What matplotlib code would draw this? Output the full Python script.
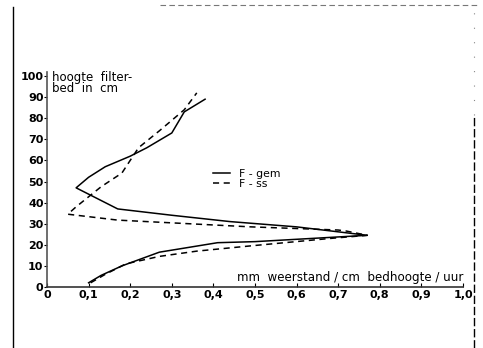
import matplotlib
matplotlib.use("Agg")
import matplotlib.pyplot as plt
from matplotlib.lines import Line2D

# Resistance profile over filter bed height
gem_x = [0.10, 0.13, 0.18, 0.27, 0.41, 0.50, 0.77, 0.60, 0.44, 0.30, 0.17, 0.07,
         0.10, 0.14, 0.20, 0.24, 0.30, 0.33, 0.38]
gem_y = [2, 5.5, 10, 16.5, 21, 21.5, 24.5, 28.5, 31, 34, 37, 47,
         52, 57, 62, 66, 73, 83, 89]

ss_x = [0.105, 0.14, 0.19, 0.27, 0.36, 0.49, 0.68, 0.77, 0.72, 0.70, 0.49, 0.17,
        0.05, 0.07, 0.13, 0.18, 0.22, 0.27, 0.33, 0.36]
ss_y = [2, 6, 11, 14.5, 17, 19.5, 23, 24.5, 26.5, 27, 28.5, 31.7,
        34.5, 38, 47.5, 54, 66, 74, 84, 92]

x_ticks = [0.0, 0.1, 0.2, 0.3, 0.4, 0.5, 0.6, 0.7, 0.8, 0.9, 1.0]
x_tick_labels = ["0", "0,1", "0,2", "0,3", "0,4", "0,5", "0,6", "0,7", "0,8", "0,9", "1,0"]
y_ticks = [0, 10, 20, 30, 40, 50, 60, 70, 80, 90, 100]

fig = plt.figure(figsize=(4.83, 3.48), dpi=100)
fig.patch.set_facecolor("white")
ax = fig.add_axes([47 / 483, 61 / 348, 416 / 483, 211 / 348])

ax.plot(gem_x, gem_y, color="black", lw=1.1, label="F - gem")
ax.plot(ss_x, ss_y, color="black", lw=1.1, ls=(0, (4, 3)), label="F - ss")

ax.set_xlim(0, 1.0)
ax.set_ylim(0, 100)
ax.spines["top"].set_visible(False)
ax.spines["right"].set_visible(False)
ax.spines["left"].set_bounds(0, 102)
ax.spines["left"].set_color("#555555")
ax.spines["bottom"].set_color("#333333")
ax.spines["left"].set_linewidth(1.2)
ax.spines["bottom"].set_linewidth(1.2)

ax.set_xticks(x_ticks)
ax.set_xticklabels(x_tick_labels)
ax.set_yticks(y_ticks)
ax.set_yticklabels([str(v) for v in y_ticks])
ax.tick_params(axis="x", direction="in", length=3, width=0.8, pad=2,
               labelsize=8)
ax.tick_params(axis="y", direction="out", length=2, width=0.8, pad=0.5,
               labelsize=8)
for lab in ax.get_xticklabels() + ax.get_yticklabels():
    lab.set_fontweight("bold")

ax.text(0.012, 102.5, "hoogte  filter-\nbed  in  cm", fontsize=8.5, va="top",
        ha="left", linespacing=0.78)
ax.text(1.0, 1.2, "mm  weerstand / cm  bedhoogte / uur", fontsize=8.6,
        va="bottom", ha="right")

ax.legend(loc="upper left", bbox_to_anchor=(0.385, 0.585), frameon=False,
          handlelength=1.6, handletextpad=0.8, fontsize=7.8, labelspacing=0.0,
          borderpad=0)

# page border
fig.add_artist(Line2D([13 / 483, 13 / 483], [0, 341 / 348], color="black", lw=1.0))
fig.add_artist(Line2D([474 / 483, 474 / 483], [0, 233 / 348], color="black",
                      lw=1.0, ls=(0, (6, 2))))
fig.add_artist(Line2D([474 / 483, 474 / 483], [233 / 348, 343 / 348], color="#888888",
                      lw=0.8, ls=(0, (1, 12))))
fig.add_artist(Line2D([160 / 483, 478 / 483], [343 / 348, 343 / 348], color="#777777",
                      lw=0.8, ls=(0, (5, 3))))

fig.savefig("out.png", dpi=100, facecolor="white")
